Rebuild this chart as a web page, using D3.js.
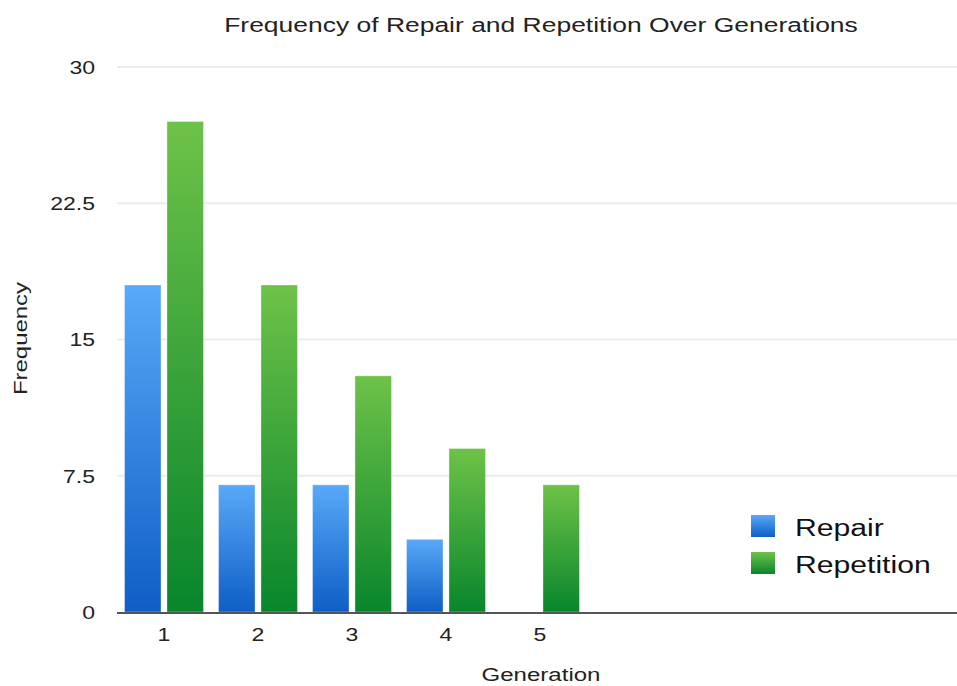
<!DOCTYPE html>
<html>
<head>
<meta charset="utf-8">
<script src="https://cdn.jsdelivr.net/npm/d3@7"></script>
<style>
  html, body { margin: 0; padding: 0; background: #fff; }
  svg { display: block; font-family: "Liberation Sans", Arial, Helvetica, sans-serif; }
</style>
</head>
<body>
<svg id="chart" width="957" height="686"></svg>
<script>
// Frequency counts per generation
const generations = ["1", "2", "3", "4", "5"];
const seriesNames = ["Repair", "Repetition"];
const repairValues = [18, 7, 7, 4, 0];
const repetitionValues = [27, 18, 13, 9, 7];
const yTicks = [0, 7.5, 15, 22.5, 30];

const W = 957, H = 686;
const plot = { left: 117, right: 957, top: 67, bottom: 612 };
const step = 94;
const TEXT_COLOR = "#222";

const svg = d3.select("#chart");

// place a text at (x, y) with a horizontal stretch applied about its anchor
function placeText(sel, x, y, sx, rotate) {
  return sel.attr("x", 0).attr("y", 0)
    .attr("transform", `translate(${x},${y})${rotate ? ` rotate(${rotate})` : ""} scale(${sx},1)`);
}

// gradients, one per series, running top-light to bottom-dark within each bar
const defs = svg.append("defs");
const gradStops = {
  Repair: ["#58a9f8", "#0e5ec6"],
  Repetition: ["#6ec248", "#08862c"]
};
seriesNames.forEach(name => {
  const g = defs.append("linearGradient")
    .attr("id", "grad-" + name)
    .attr("x1", 0).attr("y1", 0).attr("x2", 0).attr("y2", 1);
  g.append("stop").attr("offset", "0%").attr("stop-color", gradStops[name][0]);
  g.append("stop").attr("offset", "100%").attr("stop-color", gradStops[name][1]);
});

const y = d3.scaleLinear().domain([0, 30]).range([plot.bottom, plot.top]);

const x0 = d3.scaleBand()
  .domain(generations)
  .range([plot.left, plot.left + step * generations.length])
  .paddingInner(0.16)
  .paddingOuter(0.08);

const x1 = d3.scaleBand()
  .domain(seriesNames)
  .range([0, x0.bandwidth()])
  .paddingInner(0.14);

// horizontal gridlines
svg.append("g")
  .selectAll("line")
  .data(yTicks.filter(t => t > 0))
  .join("line")
  .attr("x1", plot.left)
  .attr("x2", plot.right)
  .attr("y1", d => y(d))
  .attr("y2", d => y(d))
  .attr("stroke", "#ececec")
  .attr("stroke-width", 2);

// y tick labels
const yAxis = d3.axisLeft(y).tickValues(yTicks).tickSize(0).tickPadding(0)
  .tickFormat(d => String(d));
const yg = svg.append("g")
  .attr("transform", `translate(${plot.left - 22},0)`)
  .call(yAxis);
yg.select(".domain").remove();
yg.selectAll("text")
  .attr("font-size", 18)
  .attr("fill", TEXT_COLOR)
  .attr("font-family", "'Liberation Sans', Arial, sans-serif")
  .attr("x", 0)
  .attr("dy", "0.35em")
  .attr("transform", "scale(1.28,1)");

// bars
const data = generations.map((g, i) => ({
  gen: g,
  values: [
    { key: "Repair", value: repairValues[i] },
    { key: "Repetition", value: repetitionValues[i] }
  ]
}));

svg.append("g")
  .selectAll("g")
  .data(data)
  .join("g")
  .attr("transform", d => `translate(${x0(d.gen)},0)`)
  .selectAll("rect")
  .data(d => d.values.filter(v => v.value > 0))
  .join("rect")
  .attr("x", d => x1(d.key))
  .attr("width", x1.bandwidth())
  .attr("y", d => y(d.value))
  .attr("height", d => y(0) - y(d.value))
  .attr("fill", d => `url(#grad-${d.key})`)
  .attr("stroke", "rgba(255,255,255,0.35)")
  .attr("stroke-width", 1);

// x axis baseline and labels
svg.append("line")
  .attr("x1", plot.left)
  .attr("x2", plot.right)
  .attr("y1", y(0) + 1)
  .attr("y2", y(0) + 1)
  .attr("stroke", "#555")
  .attr("stroke-width", 2);

const xAxis = d3.axisBottom(x0).tickSize(0).tickPadding(0);
const xg = svg.append("g")
  .attr("transform", `translate(0,${y(0) + 29})`)
  .call(xAxis);
xg.select(".domain").remove();
xg.selectAll("text")
  .attr("font-size", 18)
  .attr("fill", TEXT_COLOR)
  .attr("y", 0)
  .attr("dy", 0)
  .attr("transform", "scale(1.28,1)")
  .attr("font-family", "'Liberation Sans', Arial, sans-serif");

// title
placeText(svg.append("text"), 541, 32, 1.26)
  .attr("text-anchor", "middle")
  .attr("font-size", 21)
  .attr("fill", TEXT_COLOR)
  .text("Frequency of Repair and Repetition Over Generations");

// axis titles
placeText(svg.append("text"), 541, 681, 1.3)
  .attr("text-anchor", "middle")
  .attr("font-size", 18.5)
  .attr("fill", TEXT_COLOR)
  .text("Generation");

placeText(svg.append("text"), 27, (plot.top + plot.bottom) / 2 - 1, 1.33, -90)
  .attr("text-anchor", "middle")
  .attr("font-size", 18)
  .attr("fill", TEXT_COLOR)
  .text("Frequency");

// legend
const legend = svg.append("g").attr("transform", "translate(751,515)");
const legendRow = legend.selectAll("g")
  .data(seriesNames)
  .join("g")
  .attr("transform", (d, i) => `translate(0,${i * 37})`);
legendRow.append("rect")
  .attr("width", 24)
  .attr("height", 22)
  .attr("fill", d => `url(#grad-${d})`);
legendRow.append("text")
  .attr("transform", "translate(44,21) scale(1.31,1)")
  .attr("font-size", 23)
  .attr("fill", "#111")
  .text(d => d);
</script>
</body>
</html>
